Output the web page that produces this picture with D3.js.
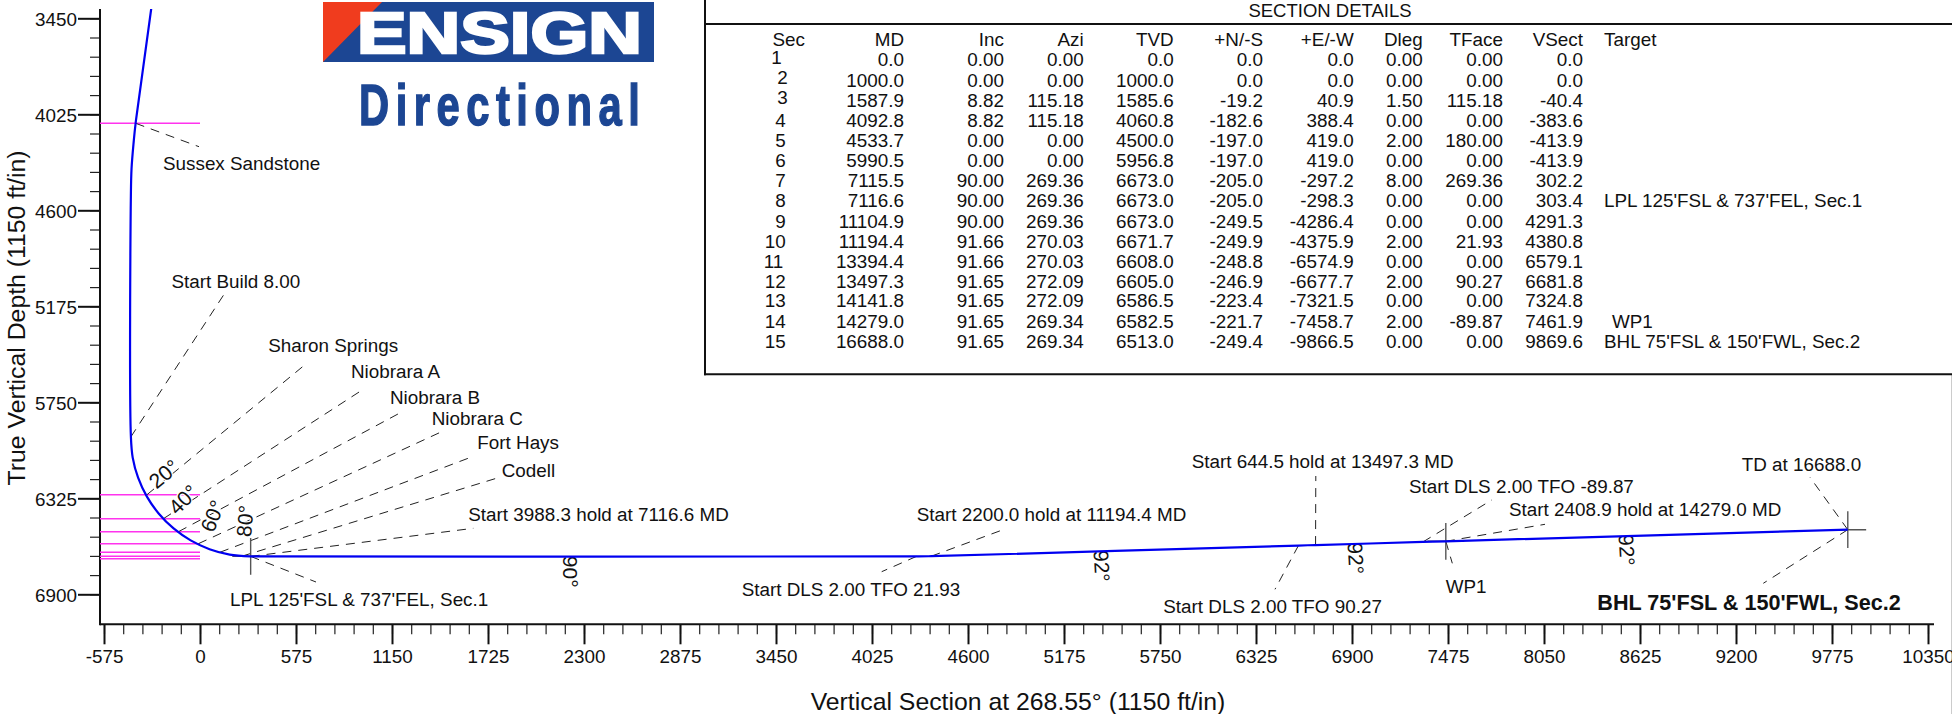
<!DOCTYPE html>
<html><head><meta charset="utf-8">
<script src="https://d3js.org/d3.v7.min.js"></script>
<style>
html,body{margin:0;padding:0;background:#fff;overflow:hidden}
svg{display:block}
text{font-family:"Liberation Sans",Arial,sans-serif;fill:#111}
</style></head><body><div id="c"></div>
<script>
// ---------- section table ----------
const tableHeaders=["Sec","MD","Inc","Azi","TVD","+N/-S","+E/-W","Dleg","TFace","VSect","Target"];
const sec=[1,2,3,4,5,6,7,8,9,10,11,12,13,14,15];
const md=[0,1000,1587.9,4092.8,4533.7,5990.5,7115.5,7116.6,11104.9,11194.4,13394.4,13497.3,14141.8,14279,16688];
const inc=[0,0,8.82,8.82,0,0,90,90,90,91.66,91.66,91.65,91.65,91.65,91.65];
const azi=[0,0,115.18,115.18,0,0,269.36,269.36,269.36,270.03,270.03,272.09,272.09,269.34,269.34];
const tvd=[0,1000,1585.6,4060.8,4500,5956.8,6673,6673,6673,6671.7,6608,6605,6586.5,6582.5,6513];
const ns=[0,0,-19.2,-182.6,-197,-197,-205,-205,-249.5,-249.9,-248.8,-246.9,-223.4,-221.7,-249.4];
const ew=[0,0,40.9,388.4,419,419,-297.2,-298.3,-4286.4,-4375.9,-6574.9,-6677.7,-7321.5,-7458.7,-9866.5];
const dleg=[0,0,1.5,0,2,0,8,0,0,2,0,2,0,2,0];
const tface=[0,0,115.18,0,180,0,269.36,0,0,21.93,0,90.27,0,-89.87,0];
const vsect=[0,0,-40.4,-383.6,-413.9,-413.9,302.2,303.4,4291.3,4380.8,6579.1,6681.8,7324.8,7461.9,9869.6];
const targets=["","","","","","","","LPL 125'FSL & 737'FEL, Sec.1","","","","","","WP1","BHL 75'FSL & 150'FWL, Sec.2"];

// ---------- well path (VSect, TVD) ----------
const pathVS=[-40.4,-383.6,-398.2,-410,-413.9,-413.9,-403.1,-370.8,-318,-246.4,-158.2,-55.9,57.2,177.8,302.2,303.4,4291.3,4380.8,6579.1,6681.8,7324.8,7461.9,9869.6];
const pathTVD=[1585.6,4060.8,4200.5,4350,4500,5956.8,6081.2,6201.8,6314.9,6417.2,6505.4,6577,6629.8,6662.1,6673,6673,6673,6671.7,6608,6605,6586.5,6582.5,6513];

// ---------- formations ----------
const formationTVD=[4079,6303,6447,6525,6597,6648,6672,6687];

// ---------- target markers ----------
const markerVS=[303.4,7461.9,9869.6];
const markerTVD=[6673,6582.5,6513];
const markerHalf=110;

// ---------- axes ----------
const xMajor=[-575,0,575,1150,1725,2300,2875,3450,4025,4600,5175,5750,6325,6900,7475,8050,8625,9200,9775,10350];
const yMajor=[3450,4025,4600,5175,5750,6325,6900];
const minorStep=115;

// ---------- annotations: [text, left px, baseline px, leader VS, leader TVD, leader end px x, y] ----------
const notes=[
 ["Sussex Sandstone",163,169.8,-385,4079,199,146.7],
 ["Start Build 8.00",171.4,287.8,-413.9,5956.8,223.6,295],
 ["Sharon Springs",268.3,351.8,-317,6303,306.7,363.3],
 ["Niobrara A",351,377.5,-219,6447,363.3,389.3],
 ["Niobrara B",390,403.8,-129,6525,401.7,412],
 ["Niobrara C",431.7,424.5,-10,6597,441,432],
 ["Fort Hays",477.3,448.8,120,6648,470.7,457.3],
 ["Codell",501.7,477,250,6672,498.3,477.7],
 ["Start 3988.3 hold at 7116.6 MD",468.3,520.5,303.4,6673,473.3,528.3],
 ["LPL 125'FSL & 737'FEL, Sec.1",230,605.5,303.4,6673,316,582],
 ["Start DLS 2.00 TFO 21.93",741.7,595.8,4291.3,6673,881.7,571.7],
 ["Start 2200.0 hold at 11194.4 MD",916.7,520.8,4380.8,6671.7,1005,529],
 ["Start DLS 2.00 TFO 90.27",1163.3,612.5,6579.1,6608,1275,589.3],
 ["Start 644.5 hold at 13497.3 MD",1191.7,468.2,6681.8,6605,1315.8,476],
 ["Start DLS 2.00 TFO -89.87",1409,492.8,7324.8,6586.5,1491.7,500],
 ["Start 2408.9 hold at 14279.0 MD",1509,515.5,7461.9,6582.5,1545,524.3],
 ["WP1",1445.7,593.2,7461.9,6582.5,1452.3,563.3],
 ["TD at 16688.0",1741.7,470.5,9869.6,6513,1810,477.3],
 ["BHL 75'FSL & 150'FWL, Sec.2",1597.3,609.5,9869.6,6513,1763.3,583.3]
];
const degreeLabels=[["20°",164,474,-40],["40°",183.3,499.5,-45],["60°",212.5,516,-68],["80°",245,521,-85],
 ["90°",570,571.7,90],["92°",1101.7,566,87],["92°",1355.7,558.3,87],["92°",1626.7,550,87]];

// ---------- layout ----------
const W=1952,H=714,FS=18.85;
const x=d3.scaleLinear().domain([0,10350]).range([200,1928]);
const y=d3.scaleLinear().domain([3450,6900]).range([18.3,594.3]);
const svg=d3.select("#c").append("svg").attr("width",W).attr("height",H).attr("viewBox",`0 0 ${W} ${H}`);
svg.append("rect").attr("width",W).attr("height",H).attr("fill","#fff");
svg.append("line").attr("x1",1951.5).attr("x2",1951.5).attr("y1",375).attr("y2",H).attr("stroke","#ccc");

const axisLeftX=100, axisBottomY=624.3;
const plainInt=d=>String(d);

// minor + major ticks through d3 axes
const xMinor=d3.range(-575,10351,minorStep), yMinor=d3.range(3450,7015,minorStep);
const gxMinor=svg.append("g").attr("transform",`translate(0,${axisBottomY})`)
  .call(d3.axisBottom(x).tickValues(xMinor).tickSize(10).tickFormat(""));
const gxMajor=svg.append("g").attr("transform",`translate(0,${axisBottomY})`)
  .call(d3.axisBottom(x).tickValues(xMajor).tickSize(20).tickPadding(5.7).tickFormat(plainInt));
const gyMinor=svg.append("g").attr("transform",`translate(${axisLeftX},0)`)
  .call(d3.axisLeft(y).tickValues(yMinor).tickSize(10).tickFormat(""));
const gyMajor=svg.append("g").attr("transform",`translate(${axisLeftX},0)`)
  .call(d3.axisLeft(y).tickValues(yMajor).tickSize(22).tickPadding(1).tickFormat(plainInt));
[gxMinor,gxMajor,gyMinor,gyMajor].forEach(g=>{g.select(".domain").remove();
  g.selectAll("text").style("font-family",'"Liberation Sans",Arial,sans-serif').style("font-size",FS+"px").attr("fill","#111");});
[gxMinor,gyMinor].forEach(g=>g.selectAll("line").attr("stroke","#222").attr("stroke-width",1.2));
[gxMajor,gyMajor].forEach(g=>g.selectAll("line").attr("stroke","#111").attr("stroke-width",2));
gyMajor.selectAll("text").attr("dy","0.37em");
svg.append("line").attr("x1",axisLeftX).attr("x2",axisLeftX).attr("y1",9).attr("y2",axisBottomY+1).attr("stroke","#111").attr("stroke-width",2);
svg.append("line").attr("x1",axisLeftX).attr("x2",1934).attr("y1",axisBottomY).attr("y2",axisBottomY).attr("stroke","#111").attr("stroke-width",2);

svg.append("text").attr("x",1018).attr("y",710).attr("text-anchor","middle").style("font-size","24.8px").text("Vertical Section at 268.55° (1150 ft/in)");
svg.append("text").attr("transform","translate(25,318) rotate(-90)").attr("text-anchor","middle").style("font-size","24.8px").text("True Vertical Depth (1150 ft/in)");

// formations
svg.append("g").selectAll("line").data(formationTVD).join("line")
  .attr("x1",axisLeftX).attr("x2",x(0)).attr("y1",d=>y(d)).attr("y2",d=>y(d))
  .attr("stroke","#ff33ee").attr("stroke-width",1.5);

// leaders
svg.append("g").selectAll("line").data(notes).join("line")
  .attr("x1",d=>x(d[3])).attr("y1",d=>y(d[4])).attr("x2",d=>d[5]).attr("y2",d=>d[6])
  .attr("stroke","#222").attr("stroke-width",1).attr("stroke-dasharray","9 7");

// markers
const mk=svg.append("g").attr("stroke","#555").attr("stroke-width",1.4);
markerVS.forEach((v,i)=>{
  mk.append("line").attr("x1",x(v)).attr("x2",x(v)).attr("y1",y(markerTVD[i]-markerHalf)).attr("y2",y(markerTVD[i]+markerHalf));
  mk.append("line").attr("x1",x(v-markerHalf)).attr("x2",x(v+markerHalf)).attr("y1",y(markerTVD[i])).attr("y2",y(markerTVD[i]));
});

// degree labels
svg.append("g").selectAll("text").data(degreeLabels).join("text")
  .attr("transform",d=>`translate(${d[1]},${d[2]}) rotate(${d[3]})`)
  .attr("text-anchor","middle").attr("dy","0.35em").style("font-size","21px")
  .style("paint-order","stroke").style("stroke","#fff").style("stroke-width",2.5).text(d=>d[0]);

// well path
svg.append("clipPath").attr("id","plotClip").append("rect").attr("x",axisLeftX).attr("y",9).attr("width",1900).attr("height",620);
const line=d3.line().x(i=>x(pathVS[i])).y(i=>y(pathTVD[i])).curve(d3.curveCatmullRom.alpha(0.5));
svg.append("path").attr("d",line(d3.range(pathVS.length))).attr("clip-path","url(#plotClip)")
  .attr("fill","none").attr("stroke","#0000f0").attr("stroke-width",2.2);

// annotation text
svg.append("g").selectAll("text").data(notes).join("text")
  .attr("x",d=>d[1]).attr("y",d=>d[2]).style("font-size",d=>d[0].startsWith("BHL")?"21.6px":FS+"px")
  .style("font-weight",d=>d[0].startsWith("BHL")?"bold":"normal").text(d=>d[0]);

// table frame
svg.append("line").attr("x1",705).attr("x2",705).attr("y1",0).attr("y2",375.3).attr("stroke","#111").attr("stroke-width",2);
svg.append("line").attr("x1",704).attr("x2",W).attr("y1",24).attr("y2",24).attr("stroke","#111").attr("stroke-width",2);
svg.append("line").attr("x1",704).attr("x2",W).attr("y1",374.3).attr("y2",374.3).attr("stroke","#111").attr("stroke-width",2);
svg.append("text").attr("x",1330).attr("y",17.3).attr("text-anchor","middle").style("font-size","18.5px").text("SECTION DETAILS");

const colRight=[805,904,1004,1083.7,1173.7,1263,1353.7,1422.7,1503,1583];
const rowBase=[65.7,86.7,106.7,126.7,146.7,166.7,186.7,207.3,227.7,247.7,267.7,287.7,307.3,327.7,348.3];
const secRight=[781.7,787.7,787.7,785.7,785.7,785.7,785.7,785.7,785.7,785.7,783.3,785.7,785.7,785.7,785.7];
const secBase=[64.3,84.3,104.3,126.7,146.7,166.7,186.7,207.3,227.7,247.7,267.7,287.7,307.3,327.7,348.3];
const targetLeft=[,,,,,,,1604,,,,,,1612,1604];
const tbl=svg.append("g").style("font-size",FS+"px");
tableHeaders.slice(0,10).forEach((h,i)=>tbl.append("text").attr("x",colRight[i]).attr("y",45.5).attr("text-anchor","end").text(h));
tbl.append("text").attr("x",1604).attr("y",45.5).text(tableHeaders[10]);
const cols=[[md,1],[inc,2],[azi,2],[tvd,1],[ns,1],[ew,1],[dleg,2],[tface,2],[vsect,1]];
sec.forEach((s,r)=>{
  tbl.append("text").attr("x",secRight[r]).attr("y",secBase[r]).attr("text-anchor","end").text(s);
  cols.forEach(([arr,dp],c)=>tbl.append("text").attr("x",colRight[c+1]).attr("y",rowBase[r]).attr("text-anchor","end").text(arr[r].toFixed(dp)));
  if(targets[r]) tbl.append("text").attr("x",targetLeft[r]).attr("y",rowBase[r]).text(targets[r]);
});

// logo
const logo=svg.append("g");
logo.append("rect").attr("x",323).attr("y",2).attr("width",331).attr("height",60).attr("fill","#1c4693");
logo.append("path").attr("d","M323,2H382L323,62Z").attr("fill","#f03c1e");
logo.append("text").attr("x",357).attr("y",53).attr("textLength",285).attr("lengthAdjust","spacingAndGlyphs")
  .style("font-size","58px").style("font-weight","bold").style("fill","#fff").style("stroke","#fff").style("stroke-width",2.5).text("ENSIGN");
logo.append("text").attr("transform","translate(359,125) scale(0.72,1)").attr("textLength",390).attr("lengthAdjust","spacing")
  .style("font-size","58px").style("font-weight","bold").style("fill","#1c4693").style("stroke","#1c4693").style("stroke-width",1.5).text("Directional");
</script></body></html>
